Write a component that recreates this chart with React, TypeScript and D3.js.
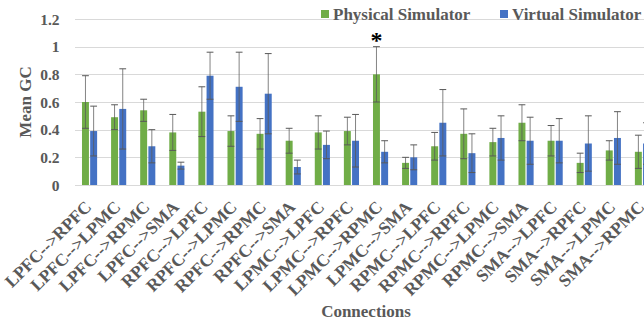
import React, { useEffect, useRef } from 'react';
import * as d3 from 'd3';

// 分类与数据
const categories = [
  'LPFC-->RPFC', 'LPFC-->LPMC', 'LPFC-->RPMC', 'LPFC-->SMA',
  'RPFC-->LPFC', 'RPFC-->LPMC', 'RPFC-->RPMC', 'RPFC-->SMA',
  'LPMC-->LPFC', 'LPMC-->RPFC', 'LPMC-->RPMC', 'LPMC-->SMA',
  'RPMC-->LPFC', 'RPMC-->RPFC', 'RPMC-->LPMC', 'RPMC-->SMA',
  'SMA-->LPFC', 'SMA-->RPFC', 'SMA-->LPMC', 'SMA-->RPMC',
];
const seriesNames = ['Physical Simulator', 'Virtual Simulator'];
const physicalMean = [0.60, 0.49, 0.54, 0.38, 0.53, 0.39, 0.37, 0.32, 0.38, 0.39, 0.80, 0.16, 0.28, 0.37, 0.31, 0.45, 0.32, 0.16, 0.25, 0.24];
const physicalErr = [0.19, 0.09, 0.08, 0.13, 0.18, 0.11, 0.11, 0.09, 0.12, 0.10, 0.20, 0.04, 0.10, 0.18, 0.10, 0.13, 0.11, 0.07, 0.07, 0.12];
const virtualMean = [0.39, 0.55, 0.28, 0.14, 0.79, 0.71, 0.66, 0.13, 0.29, 0.32, 0.24, 0.20, 0.45, 0.23, 0.34, 0.32, 0.32, 0.30, 0.34, 0.30];
const virtualErr = [0.18, 0.29, 0.12, 0.025, 0.17, 0.25, 0.29, 0.05, 0.10, 0.19, 0.08, 0.09, 0.24, 0.14, 0.16, 0.17, 0.16, 0.20, 0.19, 0.15];
const yTicks = [0, 0.2, 0.4, 0.6, 0.8, 1, 1.2];
const starCategory = 'LPMC-->RPMC';

const WIDTH = 644;
const HEIGHT = 322;
const COLORS = ['#70AD47', '#4472C4'];
const TEXT = '#595959';
const FONT = 'Liberation Serif, Times New Roman, serif';

function BarChart() {
  const ref = useRef<SVGSVGElement>(null);

  useEffect(() => {
    const svg = d3.select(ref.current);
    svg.selectAll('*').remove();
    svg.attr('font-family', FONT).attr('font-weight', 'bold');

    // 比例尺
    const x = d3.scaleBand().domain(categories).range([75, 657]).paddingInner(0.48).paddingOuter(0.24);
    const xs = d3.scaleBand().domain(seriesNames).range([0, x.bandwidth()]).paddingInner(0.15);
    const y = d3.scaleLinear().domain([0, 1.2]).range([185, 19]);

    // 网格线
    svg.append('g')
      .selectAll('line')
      .data(yTicks)
      .enter()
      .append('line')
      .attr('x1', 75)
      .attr('x2', WIDTH)
      .attr('y1', (d) => Math.round(y(d)) + 0.5)
      .attr('y2', (d) => Math.round(y(d)) + 0.5)
      .attr('stroke', '#d9d9d9')
      .attr('stroke-width', 1);

    // y 轴刻度文字
    svg.append('g')
      .selectAll('text')
      .data(yTicks)
      .enter()
      .append('text')
      .attr('x', 59.5)
      .attr('y', (d) => y(d) + 5.5)
      .attr('text-anchor', 'end')
      .attr('fill', TEXT)
      .attr('font-size', 15.5)
      .text((d) => String(d));

    const series = [
      { name: seriesNames[0], mean: physicalMean, err: physicalErr },
      { name: seriesNames[1], mean: virtualMean, err: virtualErr },
    ];

    // 柱子
    series.forEach((s, si) => {
      const g = svg.append('g');
      g.selectAll('rect')
        .data(categories)
        .enter()
        .append('rect')
        .attr('x', (d) => (x(d) as number) + (xs(s.name) as number))
        .attr('y', (d, i) => y(s.mean[i]))
        .attr('width', xs.bandwidth())
        .attr('height', (d, i) => y(0) - y(s.mean[i]))
        .attr('fill', COLORS[si]);
    });

    // 误差线
    series.forEach((s) => {
      const g = svg.append('g').attr('stroke', '#595959').attr('stroke-width', 1).attr('fill', 'none');
      categories.forEach((c, i) => {
        const cx = (x(c) as number) + (xs(s.name) as number) + xs.bandwidth() / 2;
        const top = y(s.mean[i] + s.err[i]);
        const bot = y(Math.max(0, s.mean[i] - s.err[i]));
        g.append('line').attr('x1', cx).attr('x2', cx).attr('y1', top).attr('y2', bot).attr('stroke-opacity', 0.75);
        g.append('line').attr('x1', cx - 3.4).attr('x2', cx + 3.4).attr('y1', top).attr('y2', top);
        g.append('line').attr('x1', cx - 3.4).attr('x2', cx + 3.4).attr('y1', bot).attr('y2', bot);
      });
    });

    // 显著性星号
    const si = categories.indexOf(starCategory);
    svg.append('text')
      .attr('x', (x(starCategory) as number) + (xs(seriesNames[0]) as number) + xs.bandwidth() / 2)
      .attr('y', y(physicalMean[si] + physicalErr[si]) + 1)
      .attr('text-anchor', 'middle')
      .attr('fill', '#000')
      .attr('font-size', 24)
      .text('*');

    // x 轴文字（-45°）
    svg.append('g')
      .selectAll('text')
      .data(categories)
      .enter()
      .append('text')
      .attr('transform', (d) => `translate(${(x(d) as number) + x.bandwidth() / 2 + 3},${208}) rotate(-45)`)
      .attr('text-anchor', 'end')
      .attr('fill', TEXT)
      .attr('font-size', 17.5)
      .text((d) => d);

    // 轴标题
    svg.append('text')
      .attr('transform', 'translate(31,102) rotate(-90)')
      .attr('text-anchor', 'middle')
      .attr('fill', TEXT)
      .attr('font-size', 17)
      .text('Mean GC');

    svg.append('text')
      .attr('x', 366)
      .attr('y', 317)
      .attr('text-anchor', 'middle')
      .attr('fill', TEXT)
      .attr('font-size', 17)
      .text('Connections');

    // 图例
    const legendX = [321, 500];
    series.forEach((s, i) => {
      svg.append('rect')
        .attr('x', legendX[i])
        .attr('y', 10)
        .attr('width', 8)
        .attr('height', 8)
        .attr('fill', COLORS[i]);
      svg.append('text')
        .attr('x', legendX[i] + 12)
        .attr('y', 20)
        .attr('fill', TEXT)
        .attr('font-size', 17)
        .text(s.name);
    });
  }, []);

  return (
    <svg
      ref={ref}
      width={WIDTH}
      height={HEIGHT}
      style={{ position: 'absolute', left: 0, top: 0, background: '#fff' }}
    />
  );
}

export default function App() {
  return <BarChart />;
}
